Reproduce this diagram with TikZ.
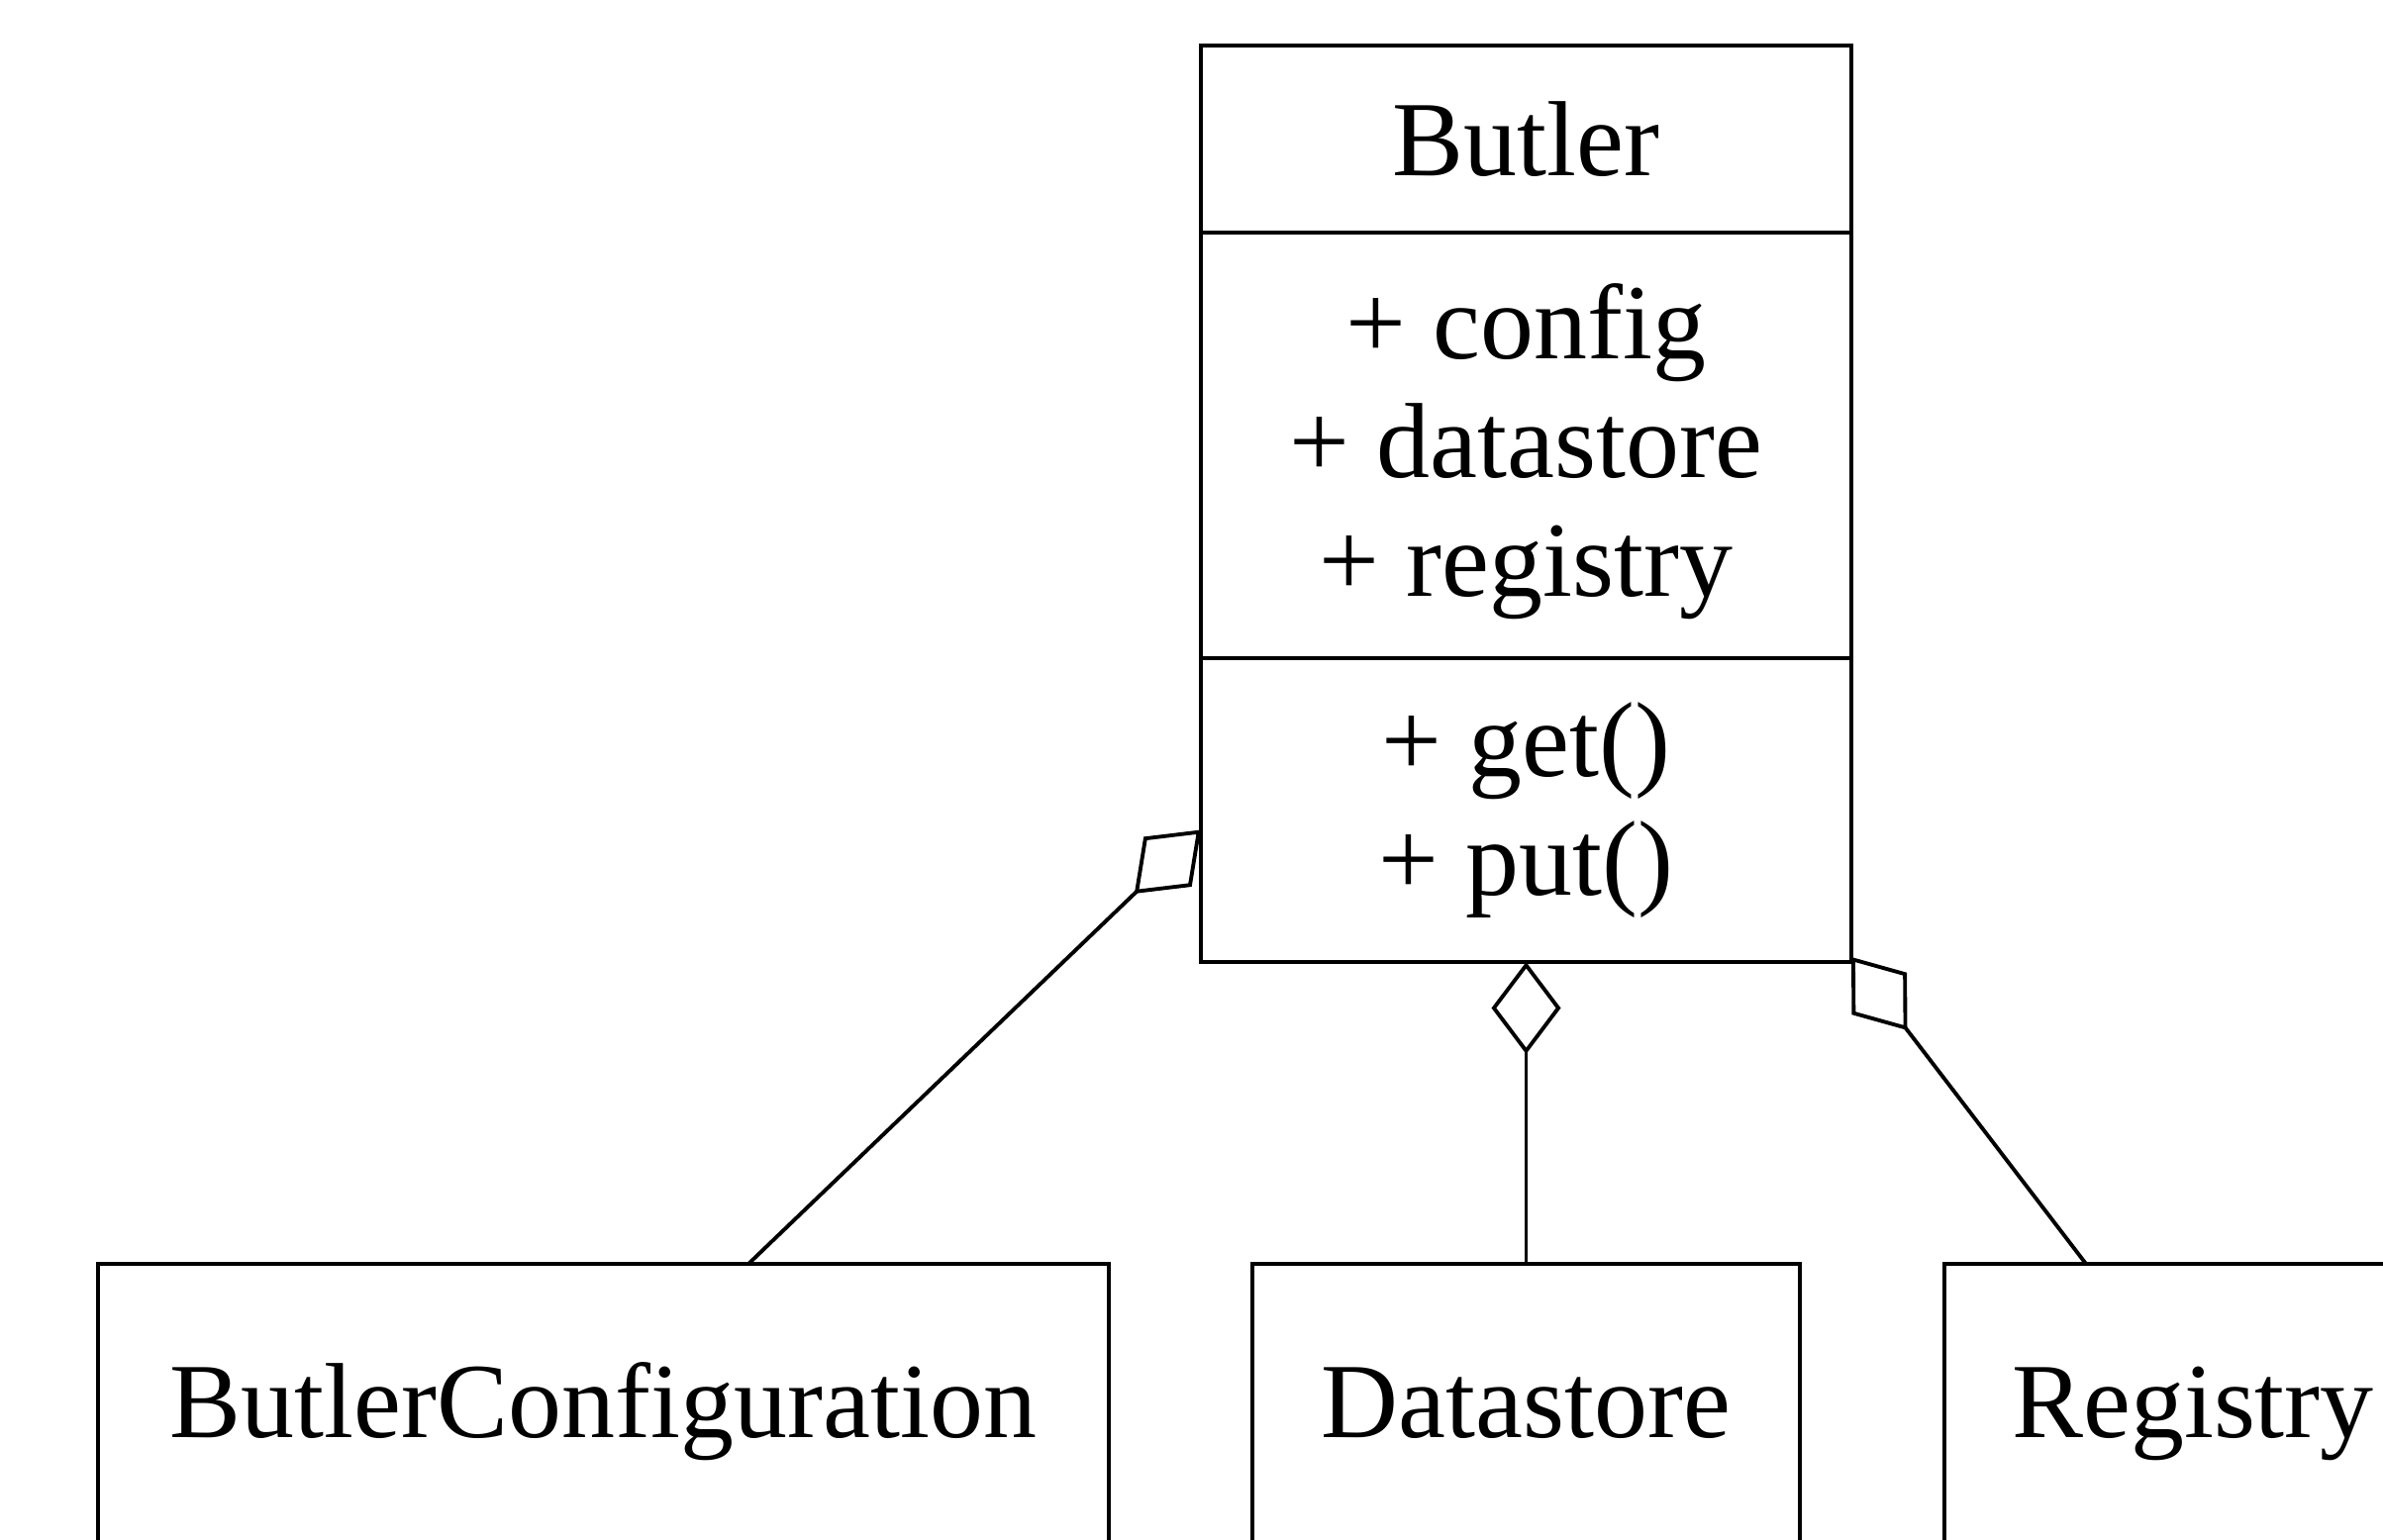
\documentclass[tikz,border=0pt]{standalone}
\usepackage{fontspec}
\setmainfont{Liberation Serif}
\usetikzlibrary{arrows.meta, positioning}

\begin{document}
\begin{tikzpicture}[node distance=1.45cm,
    every node/.style={font=\fontsize{30.7}{34.1}\selectfont},
    part/.style={rectangle, draw, line width=1.2pt, minimum width=6.57cm, inner sep=0pt, outer sep=0pt, align=center},
    klass/.style={rectangle, draw, line width=1.2pt, minimum height=3cm, inner xsep=0.68cm, outer sep=0pt, text height=0.75cm, text depth=0.25cm},
    agg/.style={line width=1.1pt, arrows = -{Diamond[open, length=0.93cm, width=0.70cm]}}]
    \useasboundingbox (0,0) rectangle (24.07,-15.56);
    \node (butlerName) [part, minimum height=1.89cm] at (15.415,-1.405) {Butler};
    \node (butlerAttr) [part, minimum height=4.30cm, below=0pt of butlerName] {\rule{0pt}{0.88cm}+ config\\+ datastore\\+ registry};
    \node (butlerOps) [part, minimum height=3.07cm, below=0pt of butlerAttr] {+ get()\\+ put()};
    \node (datastore) [klass, minimum width=5.53cm, below=3.05cm of butlerOps] {Datastore};
    \node (butlerConf) [klass, minimum width=10.21cm, left=of datastore] {ButlerConfiguration};
    \node (registry) [klass, minimum width=5.02cm, right=1.46cm of datastore] {Registry};

    \draw [agg] ([xshift=1.465cm]butlerConf.north) -- ([yshift=-0.2cm]butlerOps.west);
    \draw [agg] (datastore.north) -- (butlerOps.south);
    \draw [agg] ([xshift=1.43cm]registry.north west) -- ([yshift=0.05cm]butlerOps.south east);
\end{tikzpicture}
\end{document}
